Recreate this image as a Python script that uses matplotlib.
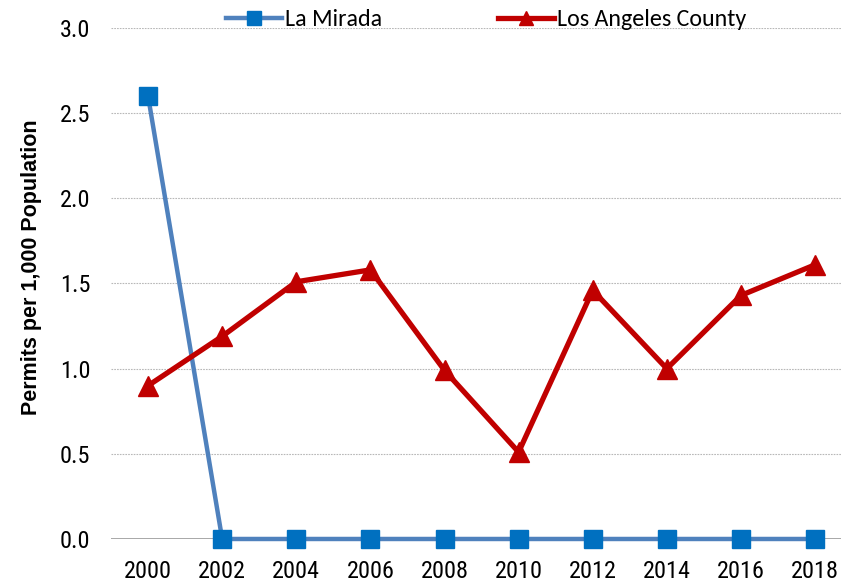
import matplotlib
matplotlib.use("Agg")
import matplotlib.pyplot as plt
from matplotlib import font_manager

years = [2000, 2002, 2004, 2006, 2008, 2010, 2012, 2014, 2016, 2018]
la_mirada = [2.6, 0, 0, 0, 0, 0, 0, 0, 0, 0]
la_county = [0.90, 1.19, 1.51, 1.58, 0.99, 0.51, 1.46, 1.00, 1.43, 1.61]
yticks = [0.0, 0.5, 1.0, 1.5, 2.0, 2.5, 3.0]
series_names = ["La Mirada", "Los Angeles County"]
y_title = "Permits per 1,000 Population"

names = {f.name for f in font_manager.fontManager.ttflist}
def pick(*cands):
    for c in cands:
        if c in names:
            return c
    return "DejaVu Sans"

tick_font = pick("Liberation Sans Narrow", "Arimo Narrow", "Roboto Condensed", "Archivo Narrow")
legend_font = pick("Carlito", "Lato", "Open Sans")
label_font = pick("Liberation Sans", "Arimo")

fig = plt.figure(figsize=(8.41, 5.83), dpi=100)
ax = fig.add_axes([0.132, 0.0755, 0.868, 0.8765])

ax.plot(years, la_mirada, color="#4f81bd", lw=3.2, marker="s", markersize=13.5,
        markerfacecolor="#0070c0", markeredgecolor="#0070c0", clip_on=False,
        zorder=3, label=series_names[0])
ax.plot(years, la_county, color="#c00000", lw=3.8, marker="^", markersize=14.5,
        markerfacecolor="#c00000", markeredgecolor="#c00000", clip_on=False,
        zorder=4, label=series_names[1])

ax.set_xlim(1999, 2018.7)
ax.set_ylim(0, 3.0)
ax.set_yticks(yticks)
ax.set_yticklabels([f"{v:.1f}" for v in yticks], fontsize=17.5, family=tick_font)
ax.set_xticks(years)
ax.set_xticklabels([str(y) for y in years], fontsize=17.5, family=tick_font)
ax.tick_params(axis="both", length=0)
ax.tick_params(axis="x", pad=15)
ax.tick_params(axis="y", pad=15)

for v in yticks[1:]:
    ax.axhline(v, color="#b8b8b8", lw=0.8, ls=(0, (1.5, 1)), zorder=1)
ax.axhline(0, color="#a0a0a0", lw=2.0, zorder=2)

for s in ax.spines.values():
    s.set_visible(False)

fig.text(0.0369, 0.541, y_title, rotation=90, ha="center", va="center",
         fontsize=15.5, fontweight="bold", family=label_font)

leg = fig.legend(loc="center left", bbox_to_anchor=(0.2687, 0.966), ncol=2,
                 frameon=False, prop={"family": legend_font, "size": 17.3},
                 handlelength=2.33, columnspacing=4.8, handletextpad=0.13,
                 markerscale=0.72, borderpad=0, borderaxespad=0)

fig.savefig("out.png", dpi=100)
